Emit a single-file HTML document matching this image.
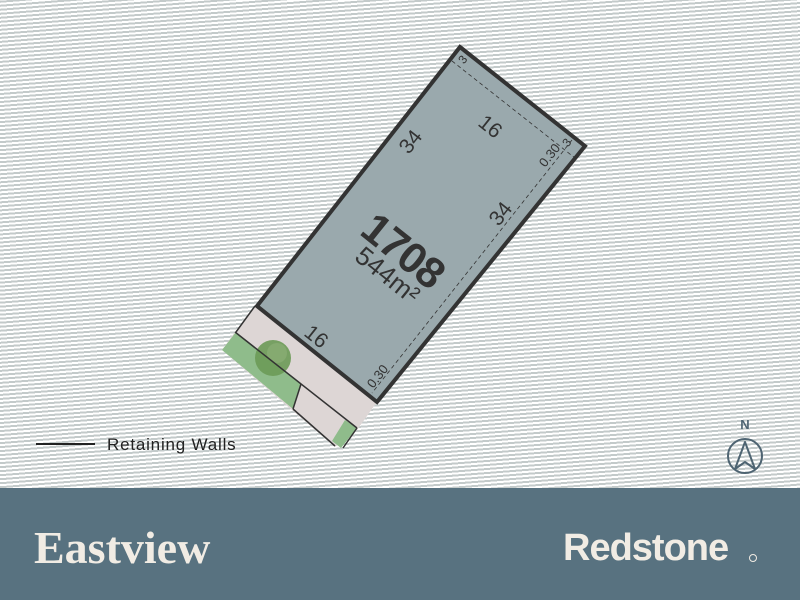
<!DOCTYPE html>
<html><head><meta charset="utf-8"><style>
html,body{margin:0;padding:0;width:800px;height:600px;overflow:hidden;background:#fff}
#bg{position:absolute;left:-100px;top:-100px;width:1000px;height:700px;
background:repeating-linear-gradient(-4.5deg,#ffffff 0px,#ffffff 2px,#c3caca 2px,#c3caca 4px);}
svg{position:absolute;left:0;top:0}
#foot{position:absolute;left:0;top:488px;width:800px;height:112px;background:#587280}
.t{font-family:"Liberation Sans",sans-serif;fill:#333}
</style></head><body>
<div id="bg"></div>
<svg width="800" height="600" viewBox="0 0 800 600">
  <!-- verge -->
  <polygon points="255,306 377,402 357,430 335,447 222,350 235,332" fill="#ddd6d5"/>
  <polygon points="222,350 236,332 301,383 293,409" fill="#8fbc8b"/>
  <polygon points="345,420 357,428 341,448 332,441" fill="#8fbc8b"/>
  <circle cx="273" cy="358" r="18" fill="#6c9a56" opacity="0.9"/>
  <circle cx="277" cy="353" r="10" fill="#8fb07a" opacity="0.6"/>
  <line x1="235" y1="332" x2="357" y2="428" stroke="#333" stroke-width="1.5"/>
  <line x1="301" y1="384" x2="293" y2="409" stroke="#333" stroke-width="1.5"/>
  <line x1="293" y1="409" x2="335" y2="446" stroke="#333" stroke-width="1.5"/>
  <line x1="357" y1="428" x2="343" y2="448" stroke="#333" stroke-width="1.5"/>
  <line x1="255" y1="306" x2="236" y2="332" stroke="#333" stroke-width="1.5"/>
  <!-- lot -->
  <polygon points="460,47 585,146 377,402 257,306" fill="#9aa9ad" stroke="#333" stroke-width="4" stroke-linejoin="miter"/>
  <line x1="452" y1="61" x2="575" y2="158" stroke="#333" stroke-width="0.8" stroke-dasharray="4,3"/>
  <line x1="572" y1="140" x2="372" y2="393" stroke="#333" stroke-width="0.8" stroke-dasharray="4,3"/>
  <g class="t">
    <text transform="translate(394,262) rotate(38.7)" text-anchor="middle" font-size="43" font-weight="bold" letter-spacing="-1">1708</text>
    <text transform="translate(382,282) rotate(38.7)" text-anchor="middle" font-size="26">544m²</text>
    <text transform="translate(416,146) rotate(-51.7)" text-anchor="middle" font-size="21">34</text>
    <text transform="translate(506,218) rotate(-51.7)" text-anchor="middle" font-size="21">34</text>
    <text transform="translate(486,132) rotate(38.7)" text-anchor="middle" font-size="21">16</text>
    <text transform="translate(312,342) rotate(38.7)" text-anchor="middle" font-size="21">16</text>
    <text transform="translate(381,379) rotate(-51.7)" text-anchor="middle" font-size="13">0.30</text>
    <text transform="translate(553,158) rotate(-51.7)" text-anchor="middle" font-size="13">0.30</text>
    <text transform="translate(466,62) rotate(-51.7)" text-anchor="middle" font-size="12">3</text>
    <text transform="translate(570,145) rotate(-51.7)" text-anchor="middle" font-size="12">3</text>
  </g>
  <!-- legend -->
  <line x1="36" y1="444" x2="95" y2="444" stroke="#222" stroke-width="2"/>
  <text x="107" y="450" font-family="Liberation Sans,sans-serif" font-size="17" letter-spacing="0.8" fill="#222">Retaining Walls</text>
  <!-- north -->
  <text x="745" y="429" text-anchor="middle" font-family="Liberation Sans,sans-serif" font-weight="bold" font-size="13" fill="#4e6472">N</text>
  <circle cx="745" cy="456" r="17" fill="none" stroke="#4e6472" stroke-width="2"/>
  <polyline points="735,469 745,442 755,469 745,462 735,469" fill="none" stroke="#4e6472" stroke-width="2" stroke-linejoin="round"/>
</svg>
<div id="foot">
  <div style="position:absolute;left:34px;top:33px;font-family:'Liberation Serif',serif;font-weight:bold;font-size:46px;color:#f1ece4">Eastview</div>
  <div style="position:absolute;left:563px;top:39px;font-family:'Liberation Sans',sans-serif;font-weight:bold;font-size:38px;letter-spacing:-1px;color:#f1ece4">Redstone</div>
  <div style="position:absolute;left:749px;top:66px;width:6px;height:6px;border:1.5px solid #f1ece4;border-radius:50%"></div>
</div>
</body></html>
